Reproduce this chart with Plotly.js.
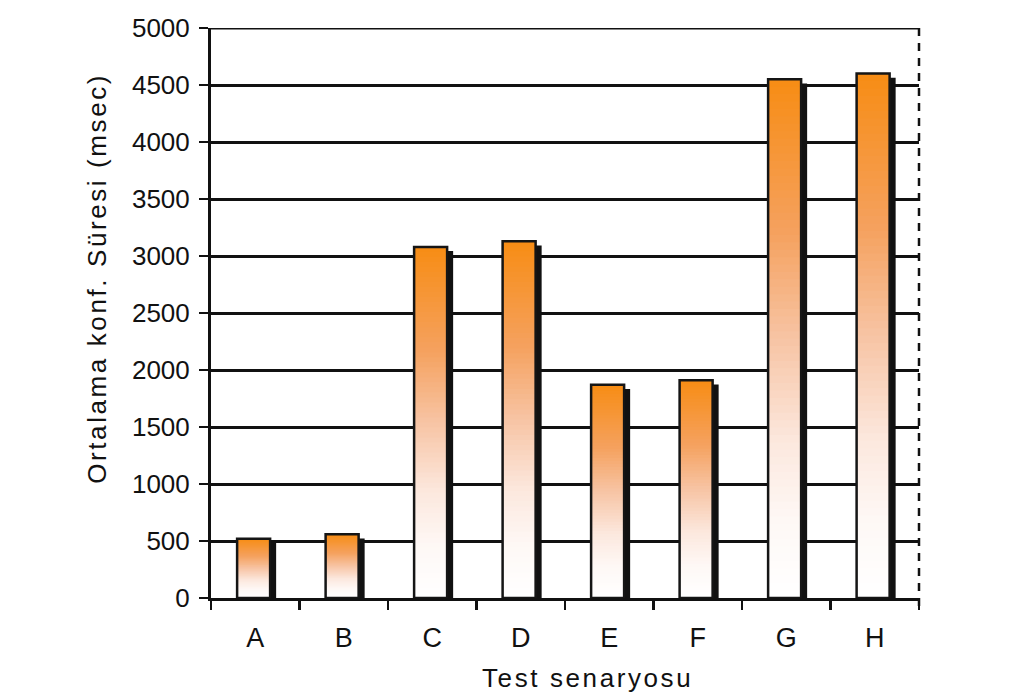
<!DOCTYPE html>
<html>
<head>
<meta charset="utf-8">
<script src="https://cdn.plot.ly/plotly-3.0.1.min.js"></script>
<style>
  html, body { margin: 0; padding: 0; background: #fff; }
  #chart { width: 1022px; height: 696px; }
  .annotation-text { letter-spacing: 2.6px; }
</style>
</head>
<body>
<div id="chart"></div>
<script>
const categories = ['A', 'B', 'C', 'D', 'E', 'F', 'G', 'H'];
const values = [520, 560, 3080, 3130, 1870, 1910, 4550, 4600];
const yTickValues = [0, 500, 1000, 1500, 2000, 2500, 3000, 3500, 4000, 4500, 5000];
const xTitle = 'Test senaryosu';
const yTitle = 'Ortalama konf. Süresi (msec)';

// gradient stops: distance from bar top (0) to bottom (1)
const gradStops = [
  [0.00, [247, 140, 20]],
  [0.30, [245, 162, 96]],
  [0.50, [247, 196, 164]],
  [0.70, [252, 232, 222]],
  [0.85, [254, 248, 245]],
  [1.00, [255, 255, 255]]
];
function gradColor(d) {
  for (let k = 1; k < gradStops.length; k++) {
    if (d <= gradStops[k][0]) {
      const a = gradStops[k - 1], b = gradStops[k];
      const t = (d - a[0]) / (b[0] - a[0]);
      const c = a[1].map((v, j) => Math.round(v + (b[1][j] - v) * t));
      return 'rgb(' + c.join(',') + ')';
    }
  }
  return 'rgb(255,255,255)';
}

const BAR_W = 0.373, BAR_OFF = -0.205, SHADOW_DX = 0.068, SHADOW_DROP = 37;
const traces = [];

// shadow
traces.push({
  type: 'bar', x: categories, y: values.map(v => v - SHADOW_DROP),
  width: BAR_W, offset: BAR_OFF + SHADOW_DX,
  marker: { color: '#111111', line: { width: 0 } },
  hoverinfo: 'skip', showlegend: false
});

// gradient fill: each layer spans from its start up to the bar top,
// later (higher) layers paint over earlier ones, so there are no gaps
const N = 70;
for (let i = 0; i < N; i++) {
  const d = 1 - i / N; // distance from top at the layer's base
  traces.push({
    type: 'bar', x: categories,
    base: values.map(v => v * i / N),
    y: values.map(v => v * (1 - i / N)),
    width: BAR_W, offset: BAR_OFF,
    marker: { color: gradColor(Math.max(0, d - 0.5 / N)), line: { width: 0 } },
    hoverinfo: 'skip', showlegend: false
  });
}

// outline
traces.push({
  type: 'bar', x: categories, y: values,
  width: BAR_W, offset: BAR_OFF,
  marker: { color: 'rgba(0,0,0,0)', line: { color: '#151515', width: 2.5 } },
  hoverinfo: 'skip', showlegend: false
});

const font = { family: 'Liberation Sans, Arial, sans-serif', color: '#111111' };

const layout = {
  width: 1022, height: 696,
  margin: { l: 211, r: 103, t: 28, b: 98 },
  paper_bgcolor: '#ffffff', plot_bgcolor: '#ffffff',
  barmode: 'overlay',
  showlegend: false,
  font: font,
  xaxis: {
    type: 'category',
    range: [-0.5, 7.5],
    tickson: 'boundaries',
    ticks: 'outside', ticklen: 9, tickwidth: 2.5, tickcolor: '#111',
    showline: true, linecolor: '#111', linewidth: 3,
    showgrid: false, zeroline: false,
    tickfont: { family: font.family, size: 27, color: '#111' },
    ticklabelstandoff: 14,
    fixedrange: true
  },
  yaxis: {
    range: [0, 5000],
    tickvals: yTickValues,
    ticktext: yTickValues.map(String),
    ticks: 'outside', ticklen: 9, tickwidth: 2.5, tickcolor: '#111',
    showline: true, linecolor: '#111', linewidth: 3,
    showgrid: true, gridcolor: '#111', gridwidth: 3,
    zeroline: false,
    tickfont: { family: font.family, size: 26, color: '#111' },
    ticklabelstandoff: 4,
    fixedrange: true
  },
  shapes: [
    { type: 'line', xref: 'paper', yref: 'y', x0: 0, x1: 1, y0: 5000, y1: 5000,
      line: { color: '#111', width: 3 } },
    { type: 'line', xref: 'paper', yref: 'paper', x0: 1, x1: 1, y0: -0.014, y1: 1,
      line: { color: '#111', width: 2.5, dash: '8px,7px' } }
  ],
  annotations: [
    { text: xTitle, xref: 'paper', yref: 'paper', x: 0.532, y: 0, yshift: -80,
      showarrow: false, xanchor: 'center', yanchor: 'middle',
      font: { family: font.family, size: 26, color: '#111' } },
    { text: yTitle, xref: 'paper', yref: 'paper', x: 0, xshift: -114, y: 0.56,
      textangle: -90, showarrow: false, xanchor: 'center', yanchor: 'middle',
      font: { family: font.family, size: 26, color: '#111' } }
  ]
};

Plotly.newPlot('chart', traces, layout, { staticPlot: true, displayModeBar: false });
</script>
</body>
</html>
